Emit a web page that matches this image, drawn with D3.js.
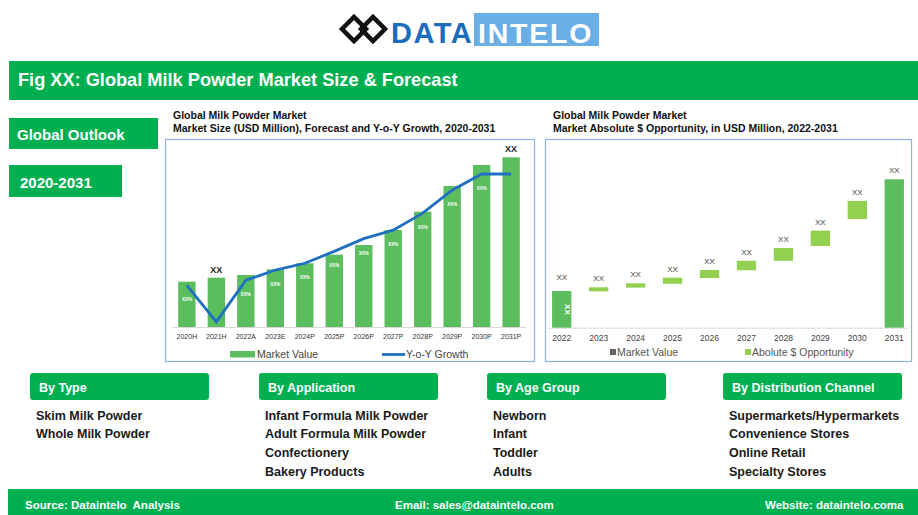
<!DOCTYPE html>
<html>
<head>
<meta charset="utf-8">
<script src="https://cdn.jsdelivr.net/npm/d3@7"></script>
<style>
  body { margin: 0; background: #fff; }
  svg { display: block; font-family: "Liberation Sans", Arial, sans-serif; }
</style>
</head>
<body>
<div class="chart"></div>
<script>
// ---- data ----
var sizeYears = ["2020H", "2021H", "2022A", "2023E", "2024P", "2025P", "2026P", "2027P", "2028P", "2029P", "2030P", "2031P"];
var marketValue = [45.3, 49.3, 52, 57.7, 63.7, 72.3, 82, 97, 115.3, 141, 162, 169.7];
var yoyGrowth = [4.9, 0.6, 5.5, 6.7, 7.5, 8.9, 10.4, 11.4, 13.4, 16.1, 18, 18];
var growthLabels = ["XX%", "", "XX%", "XX%", "XX%", "XX%", "XX%", "XX%", "XX%", "XX%", "XX%", ""];
var valueLabels = ["", "XX", "", "", "", "", "", "", "", "", "", "XX"];

var oppYears = ["2022", "2023", "2024", "2025", "2026", "2027", "2028", "2029", "2030", "2031"];
var oppLow = [0, 24.5, 27.0, 29.6, 33.5, 38.7, 45.1, 55.1, 73.2, 0];
var oppHigh = [24.7, 27.2, 29.9, 33.7, 38.9, 45.1, 53.7, 65.4, 85.4, 100];
var oppKind = ["total", "opp", "opp", "opp", "opp", "opp", "opp", "opp", "opp", "total"];

var segmentTitles = ["By Type", "By Application", "By Age Group", "By Distribution Channel"];
var segmentItems = [
  ["Skim Milk Powder", "Whole Milk Powder"],
  ["Infant Formula Milk Powder", "Adult Formula Milk Powder", "Confectionery", "Bakery Products"],
  ["Newborn", "Infant", "Toddler", "Adults"],
  ["Supermarkets/Hypermarkets", "Convenience Stores", "Online Retail", "Specialty Stores"]
];

var green = "#00b050";
var barGreen = "#5cbd5f";
var oppGreen = "#92d050";
var lineBlue = "#1f70c1";

var svg = d3.select(".chart").append("svg")
  .attr("width", 918)
  .attr("height", 515);

svg.append("rect").attr("width", 918).attr("height", 515).attr("fill", "#fff");

// ---- logo ----
var logo = svg.append("g");
[354, 373].forEach(function (cx) {
  logo.append("path")
    .attr("d", `M${cx - 12},29 L${cx},17 L${cx + 12},29 L${cx},41 Z`)
    .attr("fill", "none")
    .attr("stroke", "#111")
    .attr("stroke-width", 4.5);
});
logo.append("rect").attr("x", 360).attr("y", 26).attr("width", 7).attr("height", 6).attr("fill", "#111");
logo.append("text")
  .attr("x", 391).attr("y", 43)
  .attr("font-size", 29).attr("font-weight", "bold")
  .attr("letter-spacing", 1.5)
  .attr("fill", "#1b6dbb")
  .text("DATA");
logo.append("rect").attr("x", 474).attr("y", 13).attr("width", 125).attr("height", 33).attr("fill", "#6aaee6");
logo.append("text")
  .attr("x", 478).attr("y", 43)
  .attr("font-size", 28.5).attr("font-weight", "bold")
  .attr("letter-spacing", 1.8)
  .attr("fill", "#fff")
  .text("INTELO");

// ---- title bar and side boxes ----
svg.append("rect").attr("x", 9).attr("y", 61).attr("width", 909).attr("height", 39).attr("fill", green);
svg.append("text").attr("x", 18).attr("y", 86)
  .attr("font-size", 18.2).attr("font-weight", "bold").attr("fill", "#fff")
  .text("Fig XX: Global Milk Powder Market Size & Forecast");

svg.append("rect").attr("x", 9).attr("y", 118).attr("width", 149).attr("height", 31).attr("fill", green);
svg.append("text").attr("x", 17).attr("y", 139.5)
  .attr("font-size", 15).attr("font-weight", "bold").attr("fill", "#fff")
  .text("Global Outlook");
svg.append("rect").attr("x", 9).attr("y", 165).attr("width", 113).attr("height", 32).attr("fill", green);
svg.append("text").attr("x", 20).attr("y", 188)
  .attr("font-size", 15).attr("font-weight", "bold").attr("fill", "#fff")
  .text("2020-2031");

// ---- chart panels ----
function panel(x, title2) {
  svg.append("text").attr("x", x + 8).attr("y", 119)
    .attr("font-size", 10.5).attr("font-weight", "bold").attr("fill", "#111")
    .text("Global Milk Powder Market");
  svg.append("text").attr("x", x + 8).attr("y", 131.5)
    .attr("font-size", 10.5).attr("font-weight", "bold").attr("fill", "#111")
    .text(title2);
}
panel(165, "Market Size (USD Million), Forecast and Y-o-Y Growth, 2020-2031");
panel(545, "Market Absolute $ Opportunity, in USD Million, 2022-2031");

svg.append("rect").attr("x", 165.5).attr("y", 139.5).attr("width", 369).attr("height", 222)
  .attr("fill", "none").attr("stroke", "#8db4ea").attr("stroke-width", 1.2);
svg.append("rect").attr("x", 545.5).attr("y", 139.5).attr("width", 366).attr("height", 222)
  .attr("fill", "none").attr("stroke", "#8db4ea").attr("stroke-width", 1.2);

// ---- left chart: market size + growth ----
var xLeft = d3.scaleBand()
  .domain(sizeYears)
  .range([172, 526])
  .paddingInner(0.41)
  .paddingOuter(0.21);
var yValue = d3.scaleLinear().domain([0, 170]).range([327, 157]);
var yGrowth = d3.scaleLinear().domain([0, 20]).range([327, 157]);

var leftAxis = svg.append("g")
  .attr("transform", "translate(0,327)")
  .call(d3.axisBottom(xLeft).tickSize(0).tickPadding(7));
leftAxis.select(".domain").attr("stroke", "#d9d9d9");
leftAxis.selectAll("text")
  .attr("font-family", "Liberation Sans, Arial, sans-serif")
  .attr("font-size", 7).attr("fill", "#333");

svg.append("g").selectAll("rect")
  .data(marketValue)
  .enter().append("rect")
  .attr("x", (d, i) => xLeft(sizeYears[i]))
  .attr("y", d => yValue(d))
  .attr("width", xLeft.bandwidth())
  .attr("height", d => yValue(0) - yValue(d))
  .attr("fill", barGreen);

svg.append("g").selectAll("text")
  .data(valueLabels)
  .enter().append("text")
  .attr("x", (d, i) => xLeft(sizeYears[i]) + xLeft.bandwidth() / 2)
  .attr("y", (d, i) => yValue(marketValue[i]) - 5)
  .attr("text-anchor", "middle")
  .attr("font-size", 9).attr("font-weight", "bold").attr("fill", "#222")
  .text(d => d);

var growthLine = d3.line()
  .x((d, i) => xLeft(sizeYears[i]) + xLeft.bandwidth() / 2)
  .y(d => yGrowth(d));
svg.append("path")
  .datum(yoyGrowth)
  .attr("d", growthLine)
  .attr("fill", "none")
  .attr("stroke", lineBlue)
  .attr("stroke-width", 2.8);

svg.append("g").selectAll("text")
  .data(growthLabels)
  .enter().append("text")
  .attr("x", (d, i) => xLeft(sizeYears[i]) + xLeft.bandwidth() / 2)
  .attr("y", (d, i) => yGrowth(yoyGrowth[i]) + 16)
  .attr("text-anchor", "middle")
  .attr("font-size", 4.5).attr("font-weight", "bold").attr("fill", "#fff")
  .text(d => d);

// left legend
svg.append("rect").attr("x", 230).attr("y", 351).attr("width", 25).attr("height", 6.5).attr("fill", barGreen);
svg.append("text").attr("x", 257).attr("y", 358).attr("font-size", 10.5).attr("fill", "#444").text("Market Value");
svg.append("line").attr("x1", 382).attr("x2", 405).attr("y1", 354.5).attr("y2", 354.5)
  .attr("stroke", lineBlue).attr("stroke-width", 2.8);
svg.append("text").attr("x", 406).attr("y", 358).attr("font-size", 10.5).attr("fill", "#444").text("Y-o-Y Growth");

// ---- right chart: absolute $ opportunity ----
var xRight = d3.scaleBand()
  .domain(oppYears)
  .range([548, 908])
  .paddingInner(0.477)
  .paddingOuter(0.11);
var yOpp = d3.scaleLinear().domain([0, 100]).range([327.7, 179.3]);

var rightAxis = svg.append("g")
  .attr("transform", "translate(0,327.7)")
  .call(d3.axisBottom(xRight).tickSize(0).tickPadding(7.5));
rightAxis.select(".domain").attr("stroke", "#d9d9d9");
rightAxis.selectAll("text")
  .attr("font-family", "Liberation Sans, Arial, sans-serif")
  .attr("font-size", 8.5).attr("fill", "#444");

svg.append("g").selectAll("rect")
  .data(oppYears)
  .enter().append("rect")
  .attr("x", d => xRight(d))
  .attr("y", (d, i) => yOpp(oppHigh[i]))
  .attr("width", xRight.bandwidth())
  .attr("height", (d, i) => yOpp(oppLow[i]) - yOpp(oppHigh[i]))
  .attr("fill", (d, i) => oppKind[i] === "total" ? barGreen : oppGreen);

svg.append("g").selectAll("text")
  .data(oppYears)
  .enter().append("text")
  .attr("x", d => xRight(d) + xRight.bandwidth() / 2)
  .attr("y", (d, i) => yOpp(oppHigh[i]) - (i === 0 ? 11 : 6))
  .attr("text-anchor", "middle")
  .attr("font-size", 8).attr("fill", "#444")
  .text("XX");

// vertical label inside the 2022 bar
var firstMid = (yOpp(oppLow[0]) + yOpp(oppHigh[0])) / 2;
svg.append("text")
  .attr("transform", `translate(${xRight(oppYears[0]) + xRight.bandwidth() / 2 + 3},${firstMid}) rotate(90)`)
  .attr("text-anchor", "middle")
  .attr("font-size", 8).attr("font-weight", "bold").attr("fill", "#fff")
  .text("XX");

// right legend
svg.append("rect").attr("x", 610).attr("y", 349).attr("width", 6).attr("height", 6).attr("fill", "#666");
svg.append("text").attr("x", 617).attr("y", 356).attr("font-size", 10.5).attr("fill", "#555").text("Market Value");
svg.append("rect").attr("x", 745).attr("y", 349).attr("width", 6).attr("height", 6).attr("fill", oppGreen);
svg.append("text").attr("x", 752).attr("y", 356).attr("font-size", 10.5).attr("fill", "#555").text("Abolute $ Opportunity");

// ---- segments ----
var segX = [30, 259, 487, 723];
segmentTitles.forEach(function (t, k) {
  svg.append("rect").attr("x", segX[k]).attr("y", 373).attr("width", 179).attr("height", 27)
    .attr("rx", 3).attr("fill", green);
  svg.append("text").attr("x", segX[k] + 9).attr("y", 391.5)
    .attr("font-size", 12.5).attr("font-weight", "bold").attr("fill", "#fff")
    .text(t);
  svg.append("g").selectAll("text")
    .data(segmentItems[k])
    .enter().append("text")
    .attr("x", segX[k] + 6)
    .attr("y", (d, i) => 419.5 + i * 18.7)
    .attr("font-size", 12.5).attr("font-weight", "bold").attr("fill", "#1a1a1a")
    .text(d => d);
});

// ---- footer ----
svg.append("rect").attr("x", 8).attr("y", 489).attr("width", 910).attr("height", 26).attr("fill", green);
[["Source: Dataintelo  Analysis", 25], ["Email: sales@dataintelo.com", 395], ["Website: dataintelo.coma", 765]]
  .forEach(function (f) {
    svg.append("text").attr("x", f[1]).attr("y", 509)
      .attr("font-size", 11.5).attr("font-weight", "bold").attr("fill", "#fff")
      .attr("xml:space", "preserve").style("white-space", "pre")
      .text(f[0]);
  });
</script>
</body>
</html>
